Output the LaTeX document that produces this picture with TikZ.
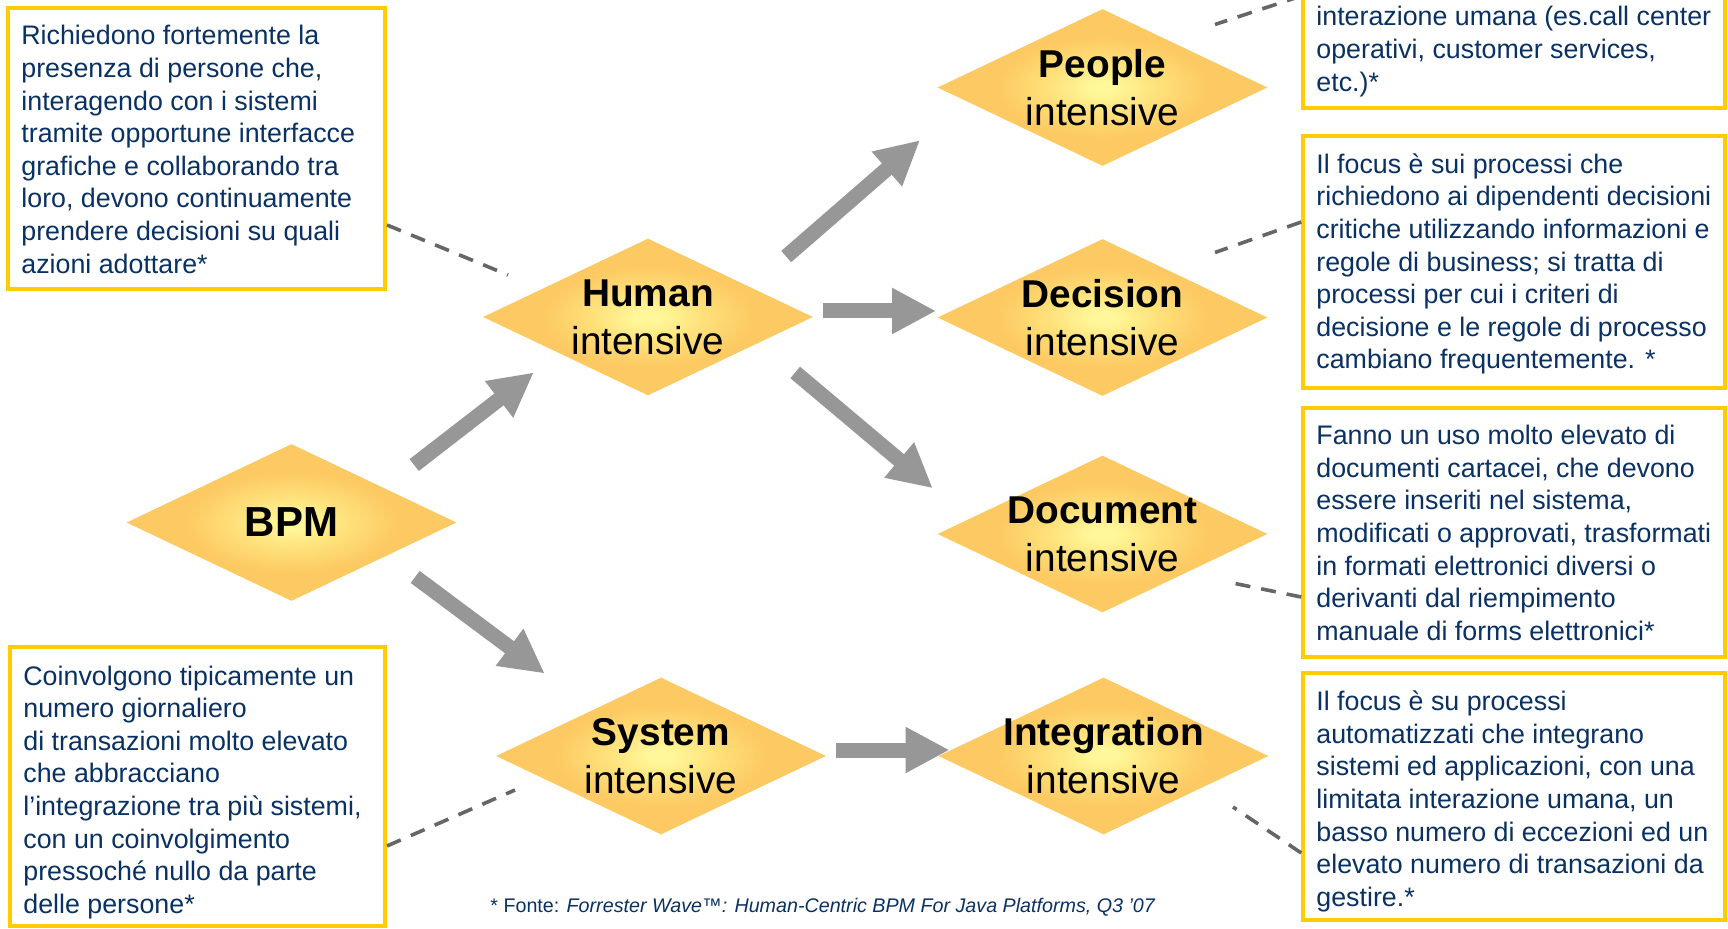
\documentclass[tikz,border=0pt]{standalone}
\usepackage{fontspec}
\setmainfont{Liberation Sans}
\usetikzlibrary{shapes.geometric,arrows.meta}
\definecolor{dlight}{HTML}{FFF799}
\definecolor{dmid}{HTML}{FEE27C}
\definecolor{dorange}{HTML}{FDC962}
\definecolor{gold}{HTML}{FFCC00}
\definecolor{navy}{HTML}{0A3163}
\definecolor{arrowgray}{HTML}{979797}
\definecolor{dashgray}{HTML}{666666}
\pgfdeclareradialshading{diashade}{\pgfpoint{0bp}{0bp}}{color(0bp)=(dlight); color(2bp)=(dlight); color(8bp)=(dmid); color(16bp)=(dorange); color(50bp)=(dorange)}
\begin{document}
\begin{tikzpicture}[x=0.5pt,y=-0.5pt,
  dia/.style={diamond, minimum width=165pt, minimum height=78.5pt, inner sep=0pt, shade, shading=diashade, draw=none},
  dtext/.style={align=center, font=\fontsize{19.4pt}{24pt}\selectfont, text=black, inner sep=0pt},
  descbox/.style={rectangle, draw=gold, line width=2pt, inner sep=0pt},
  desctext/.style={anchor=west, align=left, inner sep=0pt, text=navy, font=\fontsize{13.4pt}{16.3pt}\selectfont},
  foot/.style={inner sep=0pt, text=navy, font=\fontsize{9.85pt}{11pt}\selectfont},
  blockarrow/.style={draw=arrowgray, line width=7.5pt, -{Triangle[width=21.5pt,length=22pt]}},
  dashlink/.style={draw=dashgray, line width=1.8pt, dash pattern=on 7.5pt off 5.5pt}
]
\useasboundingbox (0,0) rectangle (1728,929);
\clip (0,0) rectangle (1728,929);
\fill[white] (0,0) rectangle (1728,929);

% description boxes
\node[descbox, minimum width=188.5pt, minimum height=140.75pt] (hbox) at (196.5,148.75) {};
\node[descbox, minimum width=210.75pt, minimum height=74.25pt] (pbox) at (1514,34.25) {};
\node[descbox, minimum width=210.75pt, minimum height=125.75pt] (dbox) at (1514,262.25) {};
\node[descbox, minimum width=210.75pt, minimum height=124pt] (docbox) at (1514,532.5) {};
\node[descbox, minimum width=210.75pt, minimum height=123.75pt] (ibox) at (1514,796.25) {};
\node[descbox, minimum width=187.5pt, minimum height=139pt] (sbox) at (197.5,786.5) {};

\node[desctext] (htext) at (21,149.4) {Richiedono fortemente la\\presenza di persone che,\\interagendo con i sistemi\\tramite opportune interfacce\\grafiche e collaborando tra\\loro, devono continuamente\\prendere decisioni su quali\\azioni adottare*};
\node[desctext] (ptext) at (1316,51.5) {interazione umana (es.call center\\operativi, customer services,\\etc.)*};
\node[desctext] (dtext) at (1316,264) {Il focus è sui processi che\\richiedono ai dipendenti decisioni\\critiche utilizzando informazioni e\\regole di business; si tratta di\\processi per cui i criteri di\\decisione e le regole di processo\\cambiano frequentemente. *};
\node[desctext] (doctext) at (1316,533) {Fanno un uso molto elevato di\\documenti cartacei, che devono\\essere inseriti nel sistema,\\modificati o approvati, trasformati\\in formati elettronici diversi o\\derivanti dal riempimento\\manuale di forms elettronici*};
\node[desctext] (itext) at (1316,801.5) {Il focus è su processi\\automatizzati che integrano\\sistemi ed applicazioni, con una\\limitata interazione umana, un\\basso numero di eccezioni ed un\\elevato numero di transazioni da\\gestire.*};
\node[desctext] (stext) at (23,792.2) {Coinvolgono tipicamente un\\numero giornaliero\\di transazioni molto elevato\\che abbracciano\\l’integrazione tra più sistemi,\\con un coinvolgimento\\pressoché nullo da parte\\delle persone*};

% diamonds
\node[dia, label={[dtext, font=\fontsize{21pt}{24pt}\selectfont\bfseries]center:BPM}] (bpm) at (291.5,522.5) {};
\node[dia, label={[dtext]center:{\textbf{Human}\\intensive}}] (human) at (648,317) {};
\node[dia, label={[dtext]center:{\textbf{System}\\intensive}}] (system) at (661,756) {};
\node[dia, label={[dtext]center:{\textbf{People}\\intensive}}] (people) at (1102.5,87.5) {};
\node[dia, label={[dtext]center:{\textbf{Decision}\\intensive}}] (decision) at (1102.5,317.5) {};
\node[dia, label={[dtext]center:{\textbf{Document}\\intensive}}] (document) at (1102.5,534) {};
\node[dia, label={[dtext]center:{\textbf{Integration}\\intensive}}] (integration) at (1103.5,756) {};

% dashed links
\coordinate (hfree) at (508,275);
\coordinate (pfree) at (1215,24.5);
\coordinate (dfree) at (1215,252.5);
\coordinate (docfree) at (1235,583.5);
\coordinate (ifree) at (1233,807);
\coordinate (sfree) at (515,790);
\draw[dashlink] (hbox.east |- 0,225) -- (hfree);
\draw[dashlink] (pbox.west |- 0,-4) -- (pfree);
\draw[dashlink] (dbox.west |- 0,222) -- (dfree);
\draw[dashlink] (docbox.west |- 0,597) -- (docfree);
\draw[dashlink] (ibox.west |- 0,853) -- (ifree);
\draw[dashlink] (sbox.east |- 0,846) -- (sfree);

% block arrows
\draw[blockarrow] ([shift={(40,-18)}]bpm.north east) -- ([shift={(-31.5,16)}]human.south west);
\draw[blockarrow] ([shift={(41,15)}]bpm.south east) -- ([shift={(-33.5,-43)}]system.north west);
\draw[blockarrow] ([shift={(55.5,-21)}]human.north east) -- ([shift={(-99.75,13.25)}]people.south west);
\draw[blockarrow] ([shift={(10,-6)}]human.east) -- ([shift={(-1,-6.5)}]decision.west);
\draw[blockarrow] ([shift={(64.5,16)}]human.south east) -- ([shift={(-87,-6.25)}]document.north west);
\draw[blockarrow] ([shift={(10,-6)}]system.east) -- ([shift={(11.5,-6)}]integration.west);

% footnote
\node[foot, anchor=base west] (source) at (490,912) {* Fonte: \textit{Forrester Wave™: Human-Centric BPM For Java Platforms, Q3 ’07}};
\end{tikzpicture}
\end{document}
